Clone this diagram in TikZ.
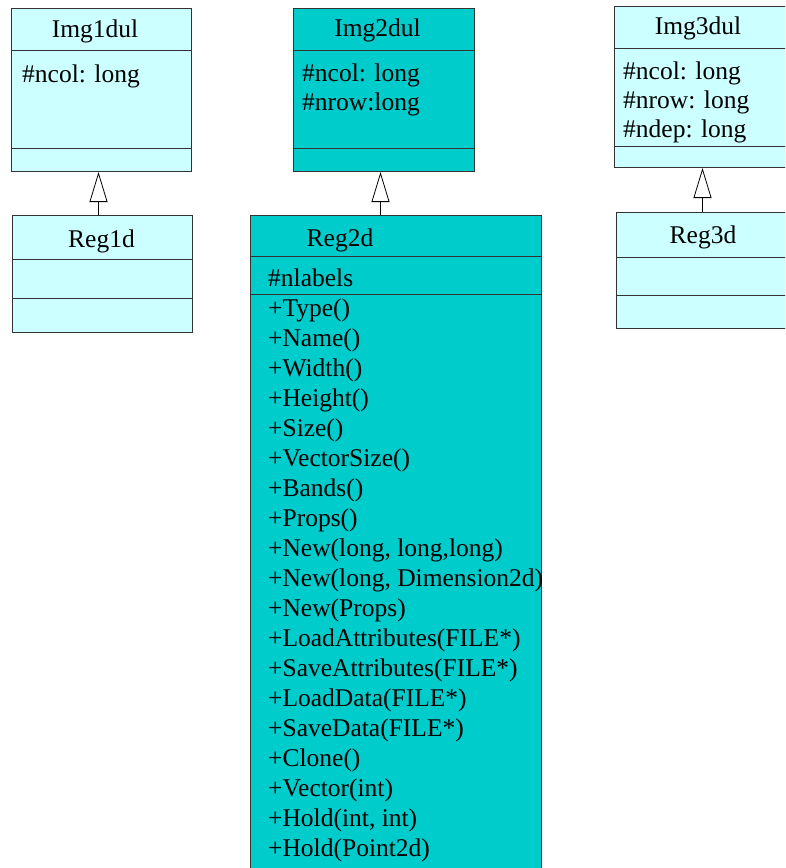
\documentclass[tikz,border=0pt]{standalone}
\usepackage{fontspec}
\setmainfont{Liberation Serif}
\usetikzlibrary{arrows.meta,positioning}
\definecolor{palecyan}{HTML}{CCFFFF}
\definecolor{deepcyan}{HTML}{00CCCC}
\tikzset{
  classbox/.style={draw=black!80, line width=1pt, anchor=north west, inner sep=0pt},
  divider/.style={draw=black!80, line width=1pt},
  label/.style={anchor=base west, inner sep=0pt, font=\fontsize{25.5}{30}\selectfont},
  title/.style={label, anchor=base},
  inherits/.style={line width=0.8pt, -{Triangle[width=18pt,length=30pt,fill=white]}}
}

\begin{document}
\begin{tikzpicture}[x=1pt,y=-1pt]
  \clip (0,0) rectangle (785,868);
  \fill[white] (0,0) rectangle (785,868);

  \node[classbox, fill=palecyan, minimum width=180pt, minimum height=163pt] (img1) at (11,8) {};
  \node[classbox, fill=deepcyan, minimum width=181pt, minimum height=163pt] (img2) at (293,8) {};
  \node[classbox, fill=palecyan, minimum width=176pt, minimum height=161pt] (img3) at (614,6) {};
  \node[classbox, fill=palecyan, minimum width=180pt, minimum height=117pt] (reg1) at (12,215) {};
  \node[classbox, fill=deepcyan, minimum width=291pt, minimum height=680pt] (reg2) at (250,215) {};
  \node[classbox, fill=palecyan, minimum width=172pt, minimum height=116pt] (reg3) at (616,212) {};

  \foreach \n/\a/\b in {img1/42/140, img2/42/140, img3/42/140, reg1/44/83, reg2/41/79, reg3/45/83}
    \draw[divider] ([yshift=-\a pt]\n.north west) -- ([yshift=-\a pt]\n.north east)
                   ([yshift=-\b pt]\n.north west) -- ([yshift=-\b pt]\n.north east);

  \draw[inherits] ([xshift=-4pt]reg1.north) -- ([xshift=-4pt]reg1.north |- img1.south);
  \draw[inherits] ([xshift=-3.5pt]img2.south |- reg2.north) -- ([xshift=-3.5pt]img2.south);
  \draw[inherits] (reg3.north) -- (reg3.north |- img3.south);

  \node[title] (n1) at (95,37) {Img1dul};
  \node[title] (n2) at (377.5,36) {Img2dul};
  \node[title] (n3) at (698,34) {Img3dul};
  \node[title] (r1) at (101.5,247) {Reg1d};
  \node[title] (r2) at (340,246) {Reg2d};
  \node[title] (r3) at (703,243) {Reg3d};

  \node[label] (a1) at (22,82) {\#ncol: long};
  \node[label] (a2) at (302,81) {\#ncol: long};
  \node[label] (a3) at (302,110) {\#nrow:long};
  \node[label] (a4) at (623,79) {\#ncol: long};
  \node[label] (a5) at (623,108) {\#nrow: long};
  \node[label] (a6) at (623,137) {\#ndep: long};
  \node[label] (a7) at (268,286) {\#nlabels};

  \foreach \m [count=\i from 0] in {Type(), Name(), Width(), Height(), Size(), VectorSize(),
      Bands(), Props(), {New(long, long,long)}, {New(long, Dimension2d)}, New(Props),
      LoadAttributes(FILE*), SaveAttributes(FILE*), LoadData(FILE*), SaveData(FILE*),
      Clone(), Vector(int), {Hold(int, int)}, Hold(Point2d)}
    \node[label] (m\i) at (268,316+30*\i) {+\m};
\end{tikzpicture}
\end{document}
